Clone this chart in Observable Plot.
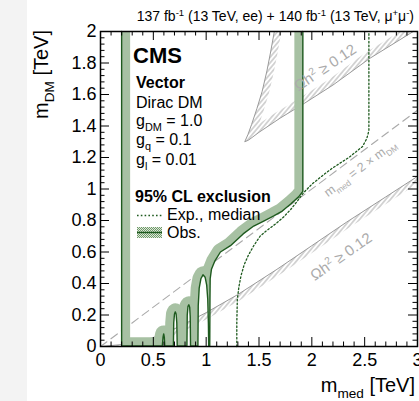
<!DOCTYPE html>
<html><head><meta charset="utf-8">
<script src="https://cdn.jsdelivr.net/npm/d3@7"></script>
<script src="https://cdn.jsdelivr.net/npm/@observablehq/plot@0.6"></script>
<style>
html,body{margin:0;padding:0;background:#fff;}
#chart{position:relative;width:419px;height:401px;overflow:hidden;}
</style></head><body><div id="chart"></div>
<script>
// ---------- data ----------
const xTicks = [0, 0.5, 1, 1.5, 2, 2.5, 3];
const xTickLabels = ["0", "0.5", "1", "1.5", "2", "2.5", "3"];
const yTicks = [0, 0.2, 0.4, 0.6, 0.8, 1, 1.2, 1.4, 1.6, 1.8, 2];
const yTickLabels = ["0", "0.2", "0.4", "0.6", "0.8", "1", "1.2", "1.4", "1.6", "1.8", "2"];

// observed 95% CL exclusion contour (m_med, m_DM) in TeV
const obsContour = [
  [0.200, 2.000], [0.200, 0.004], [0.585, 0.004], [0.592, 0.060], [0.598, 0.080],
  [0.604, 0.060], [0.608, 0.004], [0.690, 0.004], [0.693, 0.150], [0.700, 0.205],
  [0.708, 0.220], [0.716, 0.205], [0.722, 0.150], [0.726, 0.004], [0.818, 0.004],
  [0.821, 0.200], [0.828, 0.255], [0.836, 0.265], [0.844, 0.250], [0.849, 0.190],
  [0.852, 0.004], [0.922, 0.004], [0.925, 0.260], [0.934, 0.370], [0.950, 0.430],
  [0.970, 0.455], [0.990, 0.440], [1.005, 0.390], [1.015, 0.300], [1.021, 0.150],
  [1.024, 0.004], [1.034, 0.004], [1.036, 0.300], [1.038, 0.430], [1.050, 0.490],
  [1.080, 0.540], [1.135, 0.600], [1.230, 0.640], [1.350, 0.715], [1.450, 0.765],
  [1.540, 0.795], [1.640, 0.830], [1.720, 0.860], [1.800, 0.905], [1.875, 0.950],
  [1.915, 0.985], [1.915, 2.000]
];

// expected (median) exclusion contour
const expContour = [
  [1.290, 0.000], [1.290, 0.150], [1.295, 0.300], [1.310, 0.380], [1.330, 0.450],
  [1.360, 0.520], [1.400, 0.580], [1.450, 0.640], [1.510, 0.700], [1.580, 0.740],
  [1.660, 0.780], [1.730, 0.820], [1.800, 0.870], [1.860, 0.920], [1.920, 0.975],
  [2.000, 1.030], [2.110, 1.090], [2.200, 1.135], [2.350, 1.200], [2.480, 1.270],
  [2.520, 1.320], [2.540, 1.370], [2.540, 2.000]
];

// relic density contours (Omega h^2 = 0.12)
const relicUpper = [
  [1.645, 2.000], [1.610, 1.870], [1.575, 1.750], [1.530, 1.620], [1.480, 1.510],
  [1.430, 1.410], [1.395, 1.345], [1.365, 1.300], [1.400, 1.310], [1.500, 1.360],
  [1.700, 1.450], [1.920, 1.540], [2.200, 1.660], [2.550, 1.830], [2.960, 2.000]
];
const relicLower = [
  [0.000, 0.000], [0.200, 0.012], [0.400, 0.035], [0.600, 0.080], [0.800, 0.145],
  [1.000, 0.215], [1.300, 0.330], [1.670, 0.490], [2.000, 0.640], [2.330, 0.790],
  [2.700, 0.950], [3.000, 1.080]
];

// m_med = 2 x m_DM diagonal
const diagonal = [[0, 0], [3, 1.5]];

// annotation labels: [text, x, y, angle, size]
const curveLabels = [
  ["m_{med} = 2 × m_{DM}", 2.46, 1.13, -36.7, 12.5],
  ["Ωh^{2} ≥ 0.12", 2.13, 1.77, -34, 15],
  ["Ωh^{2} ≥ 0.12", 2.28, 0.57, -35, 15]
];
const infoLines = [
  ["Vector", true], ["Dirac DM", false], ["g_{DM} = 1.0", false],
  ["g_{q} = 0.1", false], ["g_{l} = 0.01", false]
];
const legendItems = ["Exp., median", "Obs."];

// ---------- layout ----------
const W = 419, H = 401, mL = 100, mR = 2, mT = 31, mB = 55;
const FW = W - mL - mR, FH = H - mT - mB;
const FONT = "'Liberation Sans', Arial, Helvetica, sans-serif";
const GREEN = "#1e5a1e";

const xMinor = d3.range(0, 3.0001, 0.1).filter(v => Math.abs(v * 2 - Math.round(v * 2)) > 1e-6);
const yMinor = d3.range(0, 2.0001, 0.04).filter(v => Math.abs(v * 5 - Math.round(v * 5)) > 1e-6);

const X = d => d[0], Y = d => d[1];

const svg = Plot.plot({
  width: W, height: H,
  marginLeft: mL, marginRight: mR, marginTop: mT, marginBottom: mB,
  x: {domain: [0, 3]},
  y: {domain: [0, 2]},
  style: {fontFamily: FONT, background: "transparent", color: "black", overflow: "visible"},
  marks: [
    Plot.line(relicUpper, {x: X, y: Y, stroke: "url(#hatch)", strokeWidth: 14, strokeLinecap: "butt", strokeLinejoin: "round", ariaDescription: "relicUpBand"}),
    Plot.line(relicLower, {x: X, y: Y, stroke: "url(#hatch)", strokeWidth: 12, strokeLinecap: "butt", strokeLinejoin: "round", ariaDescription: "relicLowBand"}),
    Plot.areaY(relicLower, {x: X, y1: 0, y2: Y, fill: "none", ariaDescription: "relicLowArea"}),
    Plot.line(relicUpper, {x: X, y: Y, stroke: "#9a9a9a", strokeWidth: 1, ariaDescription: "relicUpLine"}),
    Plot.line(relicLower, {x: X, y: Y, stroke: "#9a9a9a", strokeWidth: 1}),
    Plot.line(diagonal, {x: X, y: Y, stroke: "#aaaaaa", strokeWidth: 1.1, strokeDasharray: "8,5"}),
    Plot.line(obsContour, {x: X, y: Y, stroke: "url(#stip)", strokeWidth: 17, strokeLinecap: "butt", strokeLinejoin: "round", ariaDescription: "obsBand"}),
    Plot.line(obsContour, {x: X, y: Y, stroke: GREEN, strokeWidth: 1.4, ariaDescription: "obsLine"}),
    Plot.line(expContour, {x: X, y: Y, stroke: GREEN, strokeWidth: 1.3, strokeDasharray: "1.6,2.2"}),
    Plot.frame({stroke: "black", strokeWidth: 1.5}),
    Plot.tickX(xTicks, {x: d => d, insetTop: FH - 9, stroke: "black"}),
    Plot.tickX(xTicks, {x: d => d, insetBottom: FH - 9, stroke: "black"}),
    Plot.tickX(xMinor, {x: d => d, insetTop: FH - 4.5, stroke: "black"}),
    Plot.tickX(xMinor, {x: d => d, insetBottom: FH - 4.5, stroke: "black"}),
    Plot.tickY(yTicks, {y: d => d, insetRight: FW - 9, stroke: "black"}),
    Plot.tickY(yTicks, {y: d => d, insetLeft: FW - 9, stroke: "black"}),
    Plot.tickY(yMinor, {y: d => d, insetRight: FW - 4.5, stroke: "black"}),
    Plot.tickY(yMinor, {y: d => d, insetLeft: FW - 4.5, stroke: "black"}),
    Plot.axisX(xTicks, {tickSize: 0, tickPadding: 7, fontSize: 18, label: null,
      tickFormat: d => xTickLabels[xTicks.indexOf(d)]}),
    Plot.axisY(yTicks, {tickSize: 0, tickPadding: 4, fontSize: 18, label: null,
      tickFormat: d => yTickLabels[yTicks.indexOf(d)]})
  ]
});

document.getElementById("chart").appendChild(svg);
const S = d3.select(svg);

S.insert("rect", ":first-child").attr("x", 0).attr("y", 0).attr("width", 27).attr("height", H).attr("fill", "#f3f3f3");

const defs = S.insert("defs", ":first-child");
const stip = defs.append("pattern").attr("id", "stip").attr("patternUnits", "userSpaceOnUse").attr("width", 2).attr("height", 2);
stip.append("rect").attr("width", 2).attr("height", 2).attr("fill", "#dfe9dc");
stip.append("rect").attr("width", 1).attr("height", 1).attr("fill", "#6f9969");
stip.append("rect").attr("x", 1).attr("y", 1).attr("width", 1).attr("height", 1).attr("fill", "#6f9969");
const hatch = defs.append("pattern").attr("id", "hatch").attr("patternUnits", "userSpaceOnUse")
  .attr("width", 3.6).attr("height", 3.6).attr("patternTransform", "rotate(40)");
hatch.append("line").attr("x1", 1.8).attr("y1", -1).attr("x2", 1.8).attr("y2", 5).attr("stroke", "#9a9a9a").attr("stroke-width", 0.8);

function pathD(desc) { return S.select(`g[aria-description="${desc}"] path`).attr("d"); }
function clip(bandDesc, srcDesc, id) {
  defs.append("clipPath").attr("id", id).attr("clipPathUnits", "userSpaceOnUse")
    .append("path").attr("d", pathD(srcDesc));
  S.select(`g[aria-description="${bandDesc}"] path`).attr("clip-path", `url(#${id})`);
}
clip("obsBand", "obsLine", "clipObs");
clip("relicUpBand", "relicUpLine", "clipRelicUp");
clip("relicLowBand", "relicLowArea", "clipRelicLow");

function rich(sel, str, size) {
  const re = /(_|\^)\{([^}]*)\}/g;
  let last = 0, m, reset = 0;
  while ((m = re.exec(str))) {
    if (m.index > last) { sel.append("tspan").attr("dy", reset).text(str.slice(last, m.index)); reset = 0; }
    const shift = m[1] === "_" ? size * 0.3 : -size * 0.38;
    sel.append("tspan").attr("font-size", size * 0.68).attr("dy", reset + shift).text(m[2]);
    reset = -shift;
    last = re.lastIndex;
  }
  if (last < str.length) sel.append("tspan").attr("dy", reset).text(str.slice(last));
  return sel;
}
function txt(x, y, str, size, opts = {}) {
  const t = S.append("text").attr("x", x).attr("y", y).attr("font-size", size)
    .attr("font-family", FONT).attr("fill", opts.fill || "black")
    .attr("font-weight", opts.bold ? "bold" : "normal")
    .attr("text-anchor", opts.anchor || "start");
  if (opts.transform) t.attr("transform", opts.transform);
  return rich(t, str, size);
}

txt(414, 21, "137 fb^{-1} (13 TeV, ee) + 140 fb^{-1} (13 TeV, μ^{+}μ^{-})", 14, {anchor: "end"});
txt(415, 392, "m_{med} [TeV]", 20, {anchor: "end"});
txt(0, 0, "m_{DM} [TeV]", 20, {anchor: "end", transform: "translate(48,30) rotate(-90)"});

txt(133, 63, "CMS", 22, {bold: true});
const infoBase = [88, 108, 126, 145, 165];
infoLines.forEach(([s, b], i) => txt(136, infoBase[i], s, 16, {bold: b}));
txt(135, 201.5, "95% CL exclusion", 16, {bold: true});
txt(167, 220, legendItems[0], 16);
txt(167, 237.5, legendItems[1], 16);
S.append("line").attr("x1", 137).attr("x2", 162).attr("y1", 215.5).attr("y2", 215.5)
  .attr("stroke", GREEN).attr("stroke-width", 1.3).attr("stroke-dasharray", "1.6,2.2");
S.append("rect").attr("x", 137).attr("y", 227).attr("width", 25).attr("height", 11).attr("fill", "url(#stip)");
S.append("line").attr("x1", 137).attr("x2", 162).attr("y1", 232.5).attr("y2", 232.5)
  .attr("stroke", GREEN).attr("stroke-width", 1.5);

const xs = svg.scale("x"), ys = svg.scale("y");
curveLabels.forEach(([s, x, y, a, size]) => {
  const px = xs.apply(x), py = ys.apply(y);
  txt(0, size * 0.35, s, size, {anchor: "middle", fill: "#ababab", transform: `translate(${px},${py}) rotate(${a})`});
});
</script>
</body></html>
